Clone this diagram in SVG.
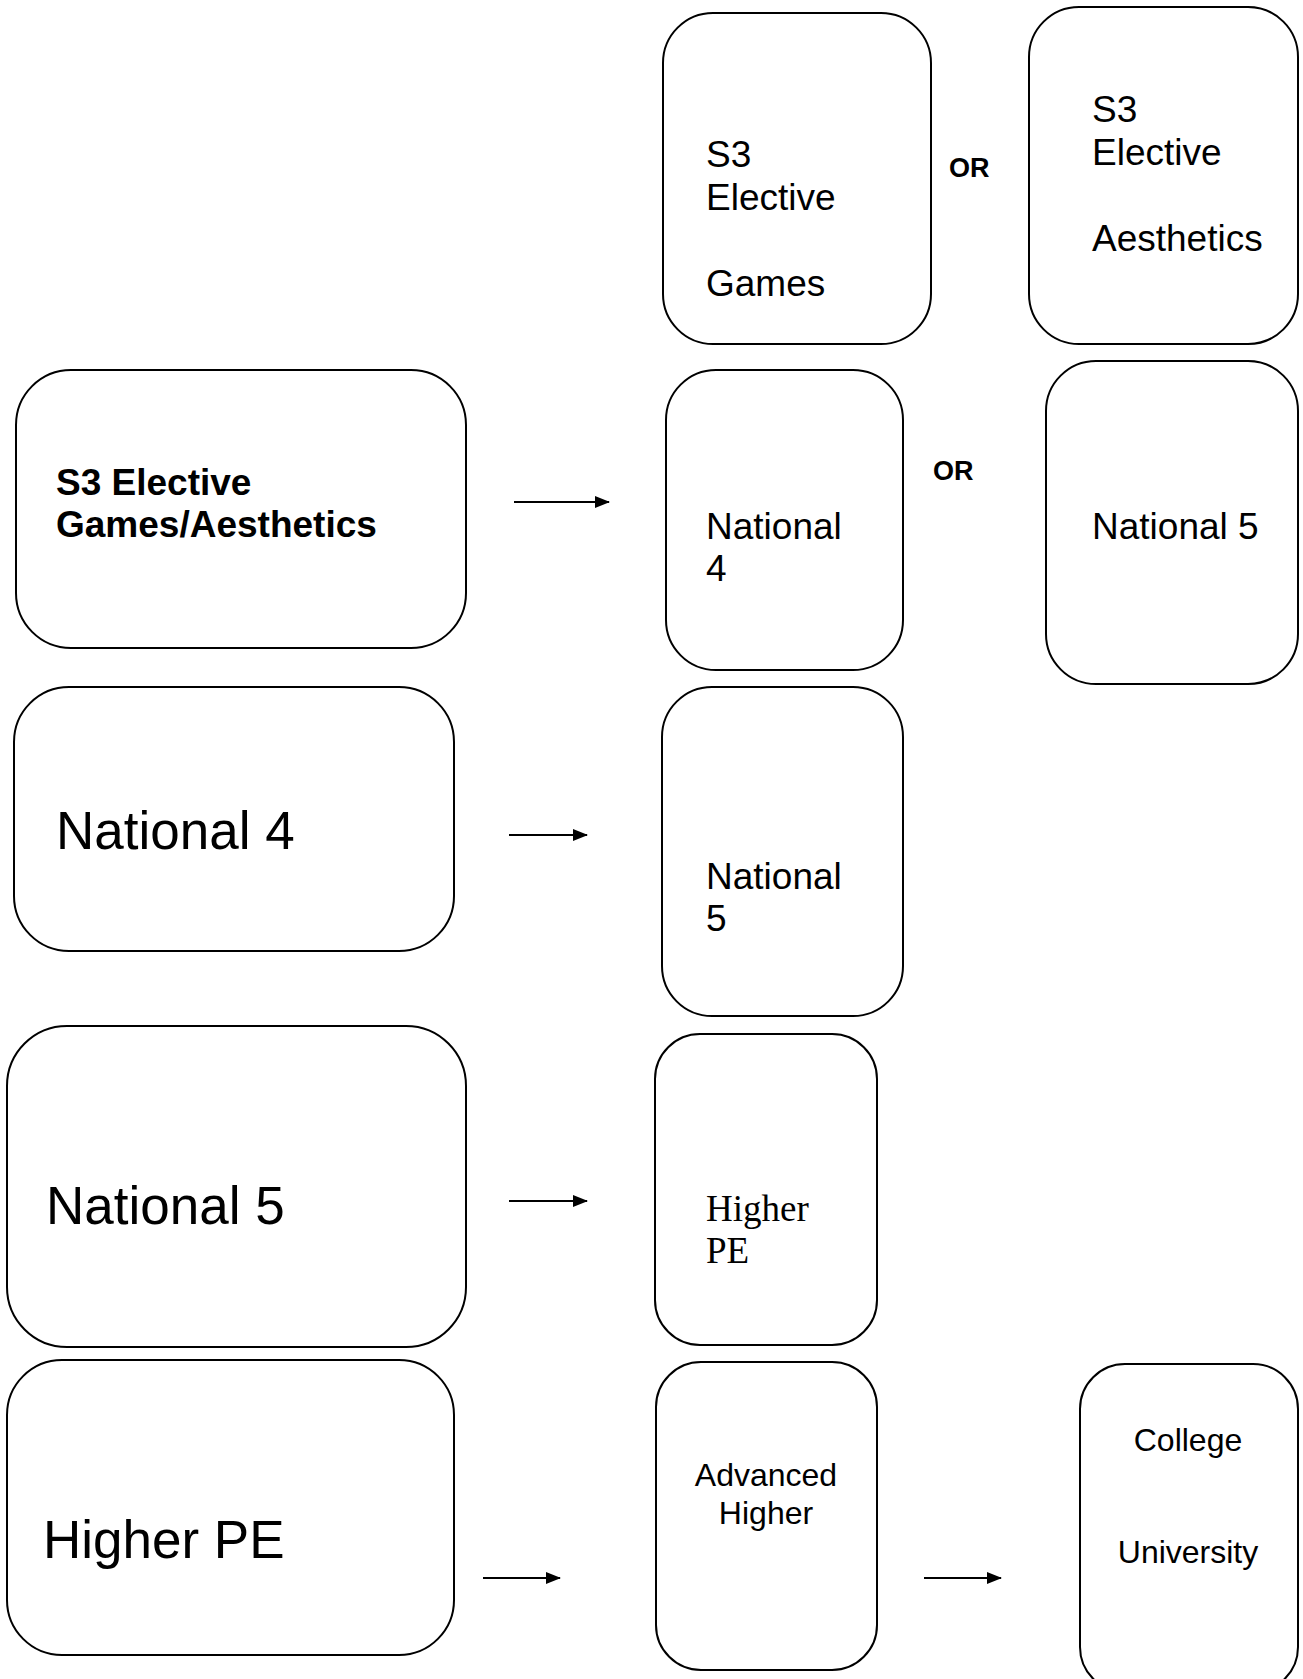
<svg xmlns="http://www.w3.org/2000/svg" width="1303" height="1679" viewBox="0 0 1303 1679">
<defs>
<style>
.box{fill:#fff;stroke:#000;stroke-width:2}
.t{font-family:"Liberation Sans",Arial,sans-serif;font-size:37px;fill:#000}
.tb{font-family:"Liberation Sans",Arial,sans-serif;font-size:37px;font-weight:bold;fill:#000}
.big{font-family:"Liberation Sans",Arial,sans-serif;font-size:53px;fill:#000}
.sm{font-family:"Liberation Sans",Arial,sans-serif;font-size:32px;fill:#000}
.ser{font-family:"Liberation Serif","Times New Roman",serif;font-size:37px;fill:#000}
.or{font-family:"Liberation Sans",Arial,sans-serif;font-size:27px;font-weight:bold;fill:#000}
.ln{stroke:#000;stroke-width:2;fill:none}
</style>
<marker id="ah" markerWidth="15" markerHeight="14" refX="14" refY="7" orient="auto" markerUnits="userSpaceOnUse">
<path d="M0,1 L15,7 L0,13 Z" fill="#000"/>
</marker>
</defs>
<rect width="1303" height="1679" fill="#fff"/>
<g id="connectors">
<line class="ln" x1="514" y1="502" x2="609" y2="502" marker-end="url(#ah)"/>
<line class="ln" x1="509" y1="835" x2="587" y2="835" marker-end="url(#ah)"/>
<line class="ln" x1="509" y1="1201" x2="587" y2="1201" marker-end="url(#ah)"/>
<line class="ln" x1="483" y1="1578" x2="560" y2="1578" marker-end="url(#ah)"/>
<line class="ln" x1="924" y1="1578" x2="1001" y2="1578" marker-end="url(#ah)"/>
<text class="or" x="949" y="177">OR</text>
<text class="or" x="933" y="480">OR</text>
</g>
<g id="s3-games">
<rect class="box" x="663" y="13" width="268" height="331" rx="50"/>
<text class="t" x="706" y="167">S3</text>
<text class="t" x="706" y="210">Elective</text>
<text class="t" x="706" y="296">Games</text>
</g>
<g id="s3-aesthetics">
<rect class="box" x="1029" y="7" width="269" height="337" rx="50"/>
<text class="t" x="1092" y="122">S3</text>
<text class="t" x="1092" y="165">Elective</text>
<text class="t" x="1092" y="251">Aesthetics</text>
</g>
<g id="s3-elective">
<rect class="box" x="16" y="370" width="450" height="278" rx="55"/>
<text class="tb" x="56" y="495">S3 Elective</text>
<text class="tb" x="56" y="537">Games/Aesthetics</text>
</g>
<g id="nat4-opt">
<rect class="box" x="666" y="370" width="237" height="300" rx="50"/>
<text class="t" x="706" y="539">National</text>
<text class="t" x="706" y="581">4</text>
</g>
<g id="nat5-opt">
<rect class="box" x="1046" y="361" width="252" height="323" rx="50"/>
<text class="t" x="1092" y="539">National 5</text>
</g>
<g id="nat4">
<rect class="box" x="14" y="687" width="440" height="264" rx="55"/>
<text class="big" x="56" y="849">National 4</text>
</g>
<g id="nat5-next">
<rect class="box" x="662" y="687" width="241" height="329" rx="50"/>
<text class="t" x="706" y="889">National</text>
<text class="t" x="706" y="931">5</text>
</g>
<g id="nat5">
<rect class="box" x="7" y="1026" width="459" height="321" rx="60"/>
<text class="big" x="46" y="1224">National 5</text>
</g>
<g id="higher-next">
<rect class="box" x="655" y="1034" width="222" height="311" rx="45"/>
<text class="ser" x="706" y="1221">Higher</text>
<text class="ser" x="706" y="1263">PE</text>
</g>
<g id="higher">
<rect class="box" x="7" y="1360" width="447" height="295" rx="55"/>
<text class="big" x="43" y="1558">Higher PE</text>
</g>
<g id="adv-higher">
<rect class="box" x="656" y="1362" width="221" height="308" rx="45"/>
<text class="sm" x="766" y="1486" text-anchor="middle">Advanced</text>
<text class="sm" x="766" y="1524" text-anchor="middle">Higher</text>
</g>
<g id="college">
<rect class="box" x="1080" y="1364" width="218" height="328" rx="45"/>
<text class="sm" x="1188" y="1451" text-anchor="middle">College</text>
<text class="sm" x="1188" y="1563" text-anchor="middle">University</text>
</g>
</svg>
